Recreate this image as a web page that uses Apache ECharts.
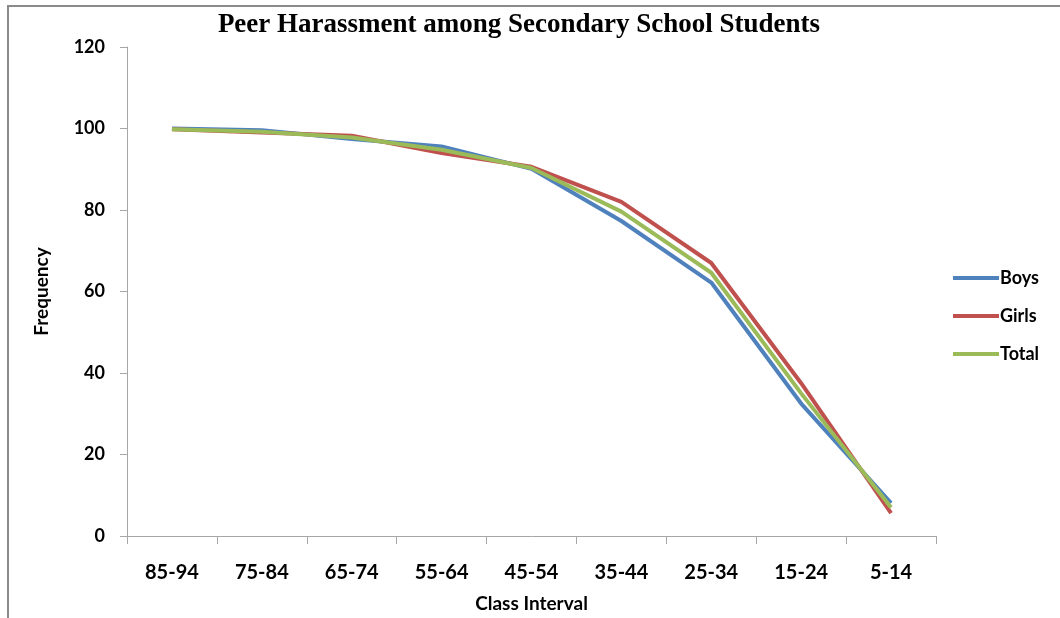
<!DOCTYPE html>
<html>
<head>
<meta charset="utf-8">
<script src="https://cdn.jsdelivr.net/npm/echarts@6/dist/echarts.min.js"></script>
<style>html,body{margin:0;padding:0;background:#fff;}#c{width:1060px;height:618px;}</style>
</head>
<body>
<div id="c"></div>
<script>
const categories = ['85-94','75-84','65-74','55-64','45-54','35-44','25-34','15-24','5-14'];
const boys  = [100, 99.6, 97.4, 95.6, 90.1, 77.3, 62.2, 32.5, 8.1];
const girls = [99.8, 99.0, 98.2, 94.0, 90.6, 82.0, 67.0, 37.5, 5.6];
const total = [99.8, 99.2, 97.8, 94.8, 90.3, 79.6, 64.6, 35.0, 7.0];
const yTicks = {min: 0, max: 120, interval: 20};

const chart = echarts.init(document.getElementById('c'), null, {renderer: 'canvas'});
const labelFont = 'Lato, "Open Sans", sans-serif';
const axisColor = '#a6a6a6';
chart.setOption({
  animation: false,
  backgroundColor: '#fff',
  graphic: [
    {type: 'rect', shape: {x: 8, y: 6, width: 1200, height: 800}, style: {fill: 'none', stroke: '#8a8a8a', lineWidth: 2}},
    {type: 'text', x: 519, y: 25, style: {text: 'Peer Harassment among Secondary School Students', fill: '#000', font: 'bold 27px "Liberation Serif", "DejaVu Serif", serif', textAlign: 'center', textVerticalAlign: 'middle'}}
  ],
  grid: {left: 127, right: 124, top: 47, bottom: 80.5, containLabel: false},
  legend: {
    orient: 'vertical', left: 948, top: 264, itemWidth: 46, itemHeight: 4, itemGap: 20,
    icon: 'rect',
    textStyle: {fontFamily: labelFont, fontWeight: 'bold', fontSize: 18, color: '#000', padding: [0,0,0,-4]},
    data: ['Boys','Girls','Total']
  },
  xAxis: {
    type: 'category', data: categories, boundaryGap: true,
    name: 'Class Interval', nameLocation: 'middle', nameGap: 58,
    nameTextStyle: {fontFamily: labelFont, fontWeight: 'bold', fontSize: 19, color: '#000'},
    axisLine: {lineStyle: {color: axisColor, width: 1}},
    axisTick: {show: true, inside: false, length: 8, alignWithLabel: false, lineStyle: {color: axisColor}},
    axisLabel: {margin: 27, fontFamily: labelFont, fontWeight: 'bold', fontSize: 20, color: '#000', interval: 0},
    splitLine: {show: false}
  },
  yAxis: {
    type: 'value', min: yTicks.min, max: yTicks.max, interval: yTicks.interval,
    name: 'Frequency', nameLocation: 'middle', nameGap: 76, nameRotate: 90,
    nameTextStyle: {fontFamily: labelFont, fontWeight: 'bold', fontSize: 19, color: '#000'},
    axisLine: {show: true, lineStyle: {color: axisColor, width: 1}},
    axisTick: {show: true, inside: false, length: 7, lineStyle: {color: axisColor}},
    axisLabel: {margin: 22, fontFamily: labelFont, fontWeight: 'bold', fontSize: 18, color: '#000'},
    splitLine: {show: false}
  },
  series: [
    {name: 'Boys', type: 'line', data: boys, symbol: 'none', lineStyle: {width: 4, color: '#4F81BD'}, itemStyle: {color: '#4F81BD'}},
    {name: 'Girls', type: 'line', data: girls, symbol: 'none', lineStyle: {width: 4, color: '#C0504D'}, itemStyle: {color: '#C0504D'}},
    {name: 'Total', type: 'line', data: total, symbol: 'none', lineStyle: {width: 4, color: '#9BBB59'}, itemStyle: {color: '#9BBB59'}}
  ]
});
</script>
</body>
</html>
